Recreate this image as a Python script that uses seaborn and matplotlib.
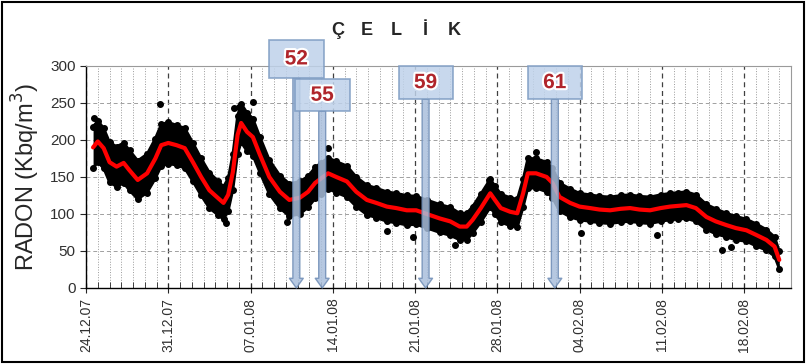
import matplotlib
matplotlib.use('Agg')
import matplotlib.pyplot as plt
import matplotlib.dates as mdates
import matplotlib.patheffects as pe
from matplotlib.patches import Rectangle
import numpy as np
import pandas as pd
import seaborn as sns

# =========================================================================
# Data
# =========================================================================
start_date = '2007-12-24'

# days since 24.12.07, smoothed radon level (red line)
days = [0.6, 1.0, 1.5, 2.0, 2.6, 3.2, 3.7, 4.4, 5.2, 5.9, 6.4, 7.0, 7.7, 8.4,
        9.1, 9.8, 10.5, 11.2, 11.7, 12.1, 12.5, 12.9, 13.2, 13.7, 14.2, 14.8,
        15.6, 16.5, 17.3, 18.2, 18.9, 19.5, 20.0, 20.6, 21.3, 22.2, 23.0, 23.9,
        24.7, 25.6, 26.4, 27.3, 28.1, 29.0, 30.1, 31.0, 31.8, 32.4, 32.9, 33.6,
        34.4, 34.8, 35.3, 36.1, 36.7, 37.2, 37.6, 38.3, 39.2, 39.7, 40.3, 41.2,
        42.0, 42.9, 43.7, 44.6, 45.5, 46.3, 47.1, 48.0, 48.9, 49.7, 50.4, 51.1,
        51.9, 52.8, 53.6, 54.5, 55.3, 56.2, 57.0, 57.9, 58.6, 59.0]
radon = [190, 198, 189, 170, 164, 169, 159, 146, 155, 175, 193, 196, 193, 189,
         170, 150, 132, 122, 115, 126, 157, 207, 223, 211, 204, 180,
         150, 130, 119, 122, 130, 142, 148, 155, 150, 144, 130, 119,
         115, 110, 108, 105, 105, 100, 94, 90, 83, 83, 92, 108,
         128, 119, 108, 103, 101, 128, 155, 155, 150, 142, 123, 115,
         110, 108, 106, 105, 107, 108, 106, 105, 108, 110, 111, 112,
         108, 96, 90, 85, 81, 78, 72, 65, 56, 38]
# half width of the dense cloud of hourly readings (black dots)
spread = [28, 28, 27, 27, 27, 27, 27, 26, 26, 27, 28, 28, 27, 27,
          26, 25, 24, 23, 22, 22, 24, 26, 26, 26, 25, 24,
          23, 22, 22, 22, 21, 21, 21, 21, 21, 21, 20, 20,
          20, 20, 20, 20, 19, 19, 19, 19, 18, 18, 18, 19,
          19, 19, 19, 19, 19, 19, 20, 20, 20, 20, 19, 19,
          18, 18, 18, 18, 18, 18, 18, 18, 18, 18, 18, 18,
          18, 17, 17, 16, 16, 15, 15, 14, 13, 12]
# isolated readings outside the cloud
out_days = [0.7, 6.3, 12.6, 13.0, 14.2, 20.6, 17.1, 11.9, 25.6, 27.8, 31.4,
            34.3, 38.3, 42.1, 48.6, 54.1, 54.9]
out_vals = [230, 248, 243, 245, 251, 189, 89, 88, 77, 69, 58,
            146, 184, 74, 71, 51, 55]

# earthquake markers
event_labels = ['52', '55', '59', '61']
event_days = [17.9, 20.1, 28.9, 39.9]

title_letters = ['Ç', 'E', 'L', 'İ', 'K']
tick_labels = ['24.12.07', '31.12.07', '07.01.08', '14.01.08', '21.01.08',
               '28.01.08', '04.02.08', '11.02.08', '18.02.08']

# =========================================================================
# Plot
# =========================================================================
sns.set_style('white')
plt.rcParams['font.family'] = ['Liberation Sans', 'DejaVu Sans']

t0 = pd.Timestamp(start_date)
t = t0 + pd.to_timedelta(days, unit='D')
mean = np.array(radon, dtype=float)
sp = np.array(spread, dtype=float)
lo, hi = mean - sp, mean + sp

fig = plt.figure(figsize=(8.07, 3.64), dpi=100)
ax = fig.add_axes([0.1066, 0.2088, 0.8736, 0.6099])

# cloud of readings
ax.fill_between(t, lo, hi, color='black', lw=0, zorder=2)
for edge in (hi, lo):
    ax.plot(t, edge, 'o', color='black', ms=4, zorder=2)
    ax.plot(t, edge, '-', color='black', lw=2, zorder=2)
ax.plot(t0 + pd.to_timedelta(out_days, unit='D'), out_vals, 'o',
        color='black', ms=4, zorder=2)

# smoothed line
sns.lineplot(x=t, y=mean, ax=ax, color='red', lw=3, zorder=3)

# axes
ax.set_xlim(t0, t0 + pd.Timedelta(days=60))
ax.set_ylim(0, 300)
ax.set_yticks(range(0, 301, 50))
ticks = pd.date_range(t0, periods=len(tick_labels), freq='7D')
ax.set_xticks(ticks)
ax.set_xticklabels(tick_labels, rotation=90, fontsize=10, color='#303030')
ax.xaxis.set_minor_locator(mdates.DayLocator())
ax.tick_params(axis='y', labelsize=11, labelcolor='#303030', direction='out',
               length=4, left=True)
ax.tick_params(axis='x', which='major', direction='inout', length=7,
               bottom=True)
ax.tick_params(axis='x', which='minor', direction='in', length=4,
               bottom=True)
ax.set_xlabel('')
ax.set_ylabel('RADON (Kbq/m$^3$)', fontsize=17, labelpad=6)

ax.grid(axis='x', which='minor', ls=':', color='#9a9a9a', lw=0.7)
ax.grid(axis='x', which='major', ls=(0, (4, 3)), color='#404040', lw=0.9)
ax.grid(axis='y', which='major', ls=(0, (4, 3)), color='#a0a0a0', lw=0.7)
ax.set_axisbelow(True)
for s in ['top', 'right']:
    ax.spines[s].set_color('#9a9a9a')
    ax.spines[s].set_linewidth(0.8)
for s in ['left', 'bottom']:
    ax.spines[s].set_color('black')
    ax.spines[s].set_linewidth(1.0)

# callout boxes with arrows
num0 = mdates.date2num(t0)
box_bottom = [284, 239, 255, 255]
box_height = [51, 43, 45, 45]
for lab, d, yb, h in zip(event_labels, event_days, box_bottom, box_height):
    xc = num0 + d
    ax.annotate('', xy=(xc, 0), xytext=(xc, yb), annotation_clip=False,
                arrowprops=dict(arrowstyle='simple,head_width=1.0,head_length=0.7,tail_width=0.5',
                                mutation_scale=10, fc='#a9bfdc', ec='#6f8db6',
                                lw=1, alpha=0.85, shrinkA=0, shrinkB=0),
                zorder=5)
    ax.add_patch(Rectangle((xc - 2.3, yb), 4.65, h, fc='#bfd2ea', ec='#7d9bc2',
                           lw=1.2, alpha=0.85, clip_on=False, zorder=6))
    ax.text(xc, yb + h / 2, lab, ha='center', va='center', fontsize=15,
            fontweight='bold', color='#b0252b', zorder=7,
            path_effects=[pe.withStroke(linewidth=3, foreground='white')])

# spaced-out title
for i, letter in enumerate(title_letters):
    fig.text((338 + 29 * i) / 807, 0.915, letter, ha='center', va='center',
             fontsize=13, fontweight='bold')
fig.add_artist(Rectangle((0.003, 0.005), 0.993, 0.99, transform=fig.transFigure,
                         fill=False, ec='black', lw=1.5))

fig.savefig('out.png', dpi=100)
plt.close(fig)
